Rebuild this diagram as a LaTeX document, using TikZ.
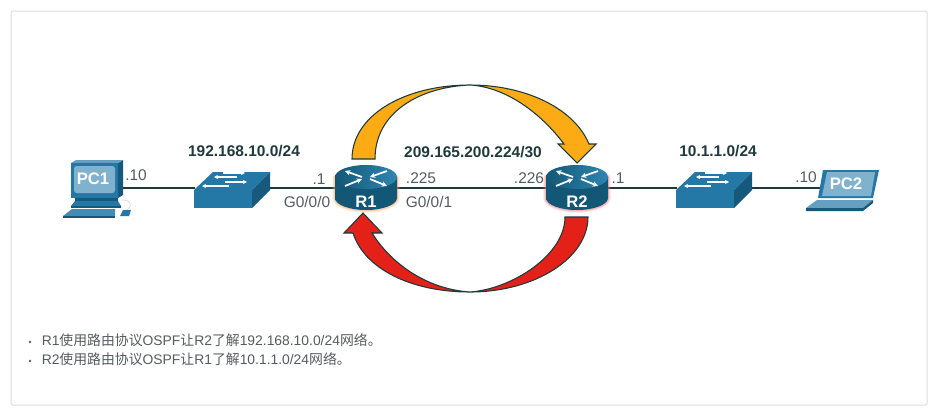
\documentclass[tikz,border=0pt]{standalone}
\usepackage{fontspec}
\setmainfont{Liberation Sans}
\newfontfamily\cjk{Noto Sans CJK SC}
\usepackage{tikz}
\usetikzlibrary{arrows.meta, positioning, calc}
\definecolor{ciscoblue}{HTML}{2478A6}
\definecolor{ciscodark}{HTML}{17597D}
\definecolor{ciscodeep}{HTML}{135777}
\definecolor{ciscomid}{HTML}{2F86B0}
\definecolor{ciscolight}{HTML}{80B2CE}
\definecolor{linkdark}{HTML}{1F3A3D}
\definecolor{textgray}{HTML}{555B5E}
\definecolor{framegray}{HTML}{DDDDDD}
\definecolor{ospforange}{HTML}{FCAB14}
\definecolor{ospfred}{HTML}{E32119}
\definecolor{glowR}{HTML}{F7A35C}
\definecolor{glowP}{HTML}{F27A80}

\tikzset{
  pics/router/.style 2 args={code={
    \foreach \w/\o in {4.5/0.12, 3/0.2, 1.8/0.35}
      \draw[#2, line width=\w, opacity=\o, line join=round]
        (-31,-11) -- (-31,10) arc[start angle=180, end angle=0, x radius=31, y radius=12]
        -- (31,-11) arc[start angle=0, end angle=180, x radius=31, y radius=12] -- cycle;
    \path[left color=ciscodeep, middle color=ciscomid, right color=ciscodeep]
      (-31,-11) -- (-31,10) arc[start angle=180, end angle=0, x radius=31, y radius=12]
      -- (31,-11) -- cycle;
    \path[left color=ciscodeep, right color=ciscomid] (0,-11) ellipse[x radius=31, y radius=12];
    \foreach \a/\b/\c/\d in {-4/-11/-21/-17, 4/-9/21/-2, -21/-2/-4/-9, 21/-17/4/-11}
      \draw[white, line width=1.3, -{Stealth[length=4, width=4]}] (\a,\b) -- (\c,\d);
    \node[white, font=\bfseries\fontsize{12.5}{13}\selectfont] at (0,14) {#1};
  }},
  pics/switchbox/.style={code={
    \fill[ciscoblue] (-38,2) -- (-19,-16) -- (38,-16) -- (20,2) -- cycle;
    \fill[ciscoblue] (-38,2) rectangle (20,20);
    \fill[ciscodark] (20,2) -- (38,-16) -- (38,2) -- (20,20) -- cycle;
    \foreach \a/\b/\c/\d in {-9/-15/13/-15, 5/-11/-18/-11, -7/-6/15/-6, -3/-2/-30/-2}
      \draw[white, line width=1, -{Stealth[length=3, width=3]}] (\a,\b) -- (\c,\d);
  }},
  pics/desktop/.style={code={
    \fill[ciscodark] (21,-25) -- (26,-28) -- (26,7) -- (21,10) -- cycle;
    \fill[ciscoblue!70!white] (-26,-25) -- (-21,-28) -- (26,-28) -- (21,-25) -- cycle;
    \fill[ciscoblue] (-26,-25) rectangle (21,10);
    \fill[ciscolight, rounded corners=2] (-23,-22) rectangle (18,5);
    \node[white, font=\bfseries\fontsize{12.5}{13}\selectfont] at (-4,-9) {PC1};
    \fill[ciscodark] (-22,10) rectangle (21,13);
    \fill[ciscoblue] (-26,18) -- (-22,13) -- (21,13) -- (24,18) -- cycle;
    \fill[ciscodark] (-26,18) rectangle (24,20);
    \fill[ciscoblue!85!white] (-34,28) -- (-25,21) -- (18,21) -- (18,28) -- cycle;
    \fill[ciscodark] (-34,28) rectangle (18,30);
    \fill[ciscoblue] (23,28) -- (26,22) -- (34,22) -- (32,28) -- cycle;
    \draw[gray!40, line width=0.4] (25,12) .. controls (34,12) and (36,17) .. (30,22);
  }},
  pics/laptop/.style={code={
    \fill[ciscoblue] (-28,10) -- (-23,-18) -- (33,-18) -- (27,10) -- cycle;
    \fill[ciscolight] (-24,8) -- (-19,-16) -- (29,-16) -- (25,8) -- cycle;
    \node[white, font=\bfseries\fontsize{12.5}{13}\selectfont] at (0,-4) {PC2};
    \fill[ciscoblue!70!white] (-29,12) -- (27,12) -- (17,20) -- (-40,20) -- cycle;
    \fill[ciscodark] (-40,20) -- (17,20) -- (27,12) -- (27,15) -- (17,23) -- (-40,23) -- cycle;
  }},
  device/.style={inner sep=0pt, minimum height=20},
  netlabel/.style={font=\bfseries\fontsize{11.6}{14}\selectfont, text=linkdark},
  iplabel/.style={font=\fontsize{11.6}{14}\selectfont, text=textgray},
  noteline/.style={anchor=west, inner sep=0pt, font=\fontsize{10.4}{13}\selectfont, text=textgray},
  notedot/.style={circle, fill=textgray, inner sep=0pt, minimum size=2.2},
  link/.style={draw=linkdark, line width=1.5},
  ospfarrow/.style={draw=linkdark, line width=0.8, line join=miter}
}

\begin{document}
\begin{tikzpicture}[x=0.75pt, y=-0.75pt]
  \useasboundingbox (0,0) rectangle (934,414);
  \draw[framegray, line width=0.75, rounded corners=1] (11,11) rectangle (927,405);

  \node[device, minimum width=36] (PC1) at (97,188) {};
  \node[device, minimum width=55] (SW1) at (232,188) {};
  \node[device, minimum width=46] (R1)  at (366,188) {};
  \node[device, minimum width=46] (R2)  at (577,188) {};
  \node[device, minimum width=55] (SW2) at (714,188) {};
  \node[device, minimum width=36] (PC2) at (846,188) {};

  \draw[link] (PC1) -- (SW1);
  \draw[link] (SW1) -- (R1);
  \draw[link] (R1) -- (R2);
  \draw[link] (R2) -- (SW2);
  \draw[link] (SW2) -- (PC2);

  \pic at (PC1) {desktop};
  \pic at (SW1) {switchbox};
  \pic at (R1)  {router={R1}{glowR}};
  \pic at (R2)  {router={R2}{glowP}};
  \pic at (SW2) {switchbox};
  \pic at (PC2) {laptop};

  % OSPF updates
  \draw[ospfarrow, fill=ospforange] (352,159) .. controls (352,115) and (405,85) .. (470,85)
    .. controls (525,85) and (574,108) .. (589,144) -- (596,144) -- (577,163) -- (558,144) -- (564,144)
    .. controls (540,112) and (505,87) .. (470,85)
    .. controls (420,87) and (375,112) .. (375,159) -- cycle;
  \draw[ospfarrow, fill=ospfred] (588,217) .. controls (588,258) and (535,292) .. (470,292)
    .. controls (410,292) and (364,268) .. (353,233) -- (344,233) -- (363,213) -- (382,233) -- (372,233)
    .. controls (390,262) and (425,289) .. (470,292)
    .. controls (512,289) and (565,255) .. (565,217) -- cycle;

  \node[netlabel] (netA) at (244,151) {192.168.10.0/24};
  \node[netlabel] (netB) at (473,152) {209.165.200.224/30};
  \node[netlabel] (netC) at (718,151) {10.1.1.0/24};

  \node[iplabel] (ipA) at (136,175) {.10};
  \node[iplabel] (ipB) at (319,179) {.1};
  \node[iplabel] (ifA) at (307,202) {G0/0/0};
  \node[iplabel] (ipC) at (421,178) {.225};
  \node[iplabel] (ifB) at (429,202) {G0/0/1};
  \node[iplabel] (ipD) at (529,178) {.226};
  \node[iplabel] (ipE) at (618,178) {.1};
  \node[iplabel] (ipF) at (806,177) {.10};

  \node[notedot] (dotA) at (30,342) {};
  \node[notedot] (dotB) at (30,361) {};
  \node[noteline] (noteA) at (41.5,340) {R1{\cjk 使用路由协议}OSPF{\cjk 让}R2{\cjk 了解}192.168.10.0/24{\cjk 网络。}};
  \node[noteline] (noteB) at (41.5,359) {R2{\cjk 使用路由协议}OSPF{\cjk 让}R1{\cjk 了解}10.1.1.0/24{\cjk 网络。}};
\end{tikzpicture}
\end{document}
